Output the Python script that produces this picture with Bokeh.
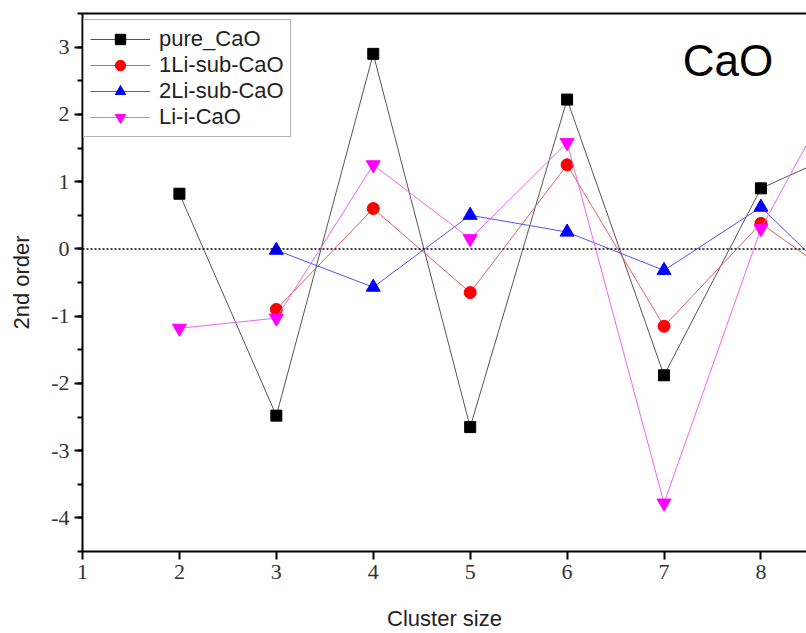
from bokeh.plotting import figure
from bokeh.models import Range1d, LinearAxis, Span, Legend, LegendItem, FixedTicker
from bokeh.core.properties import value
from bokeh.embed import file_html
from bokeh.resources import INLINE

# cluster sizes and second-order energy differences
sizes = [2, 3, 4, 5, 6, 7, 8, 9]
pure_cao = [0.82, -2.48, 2.90, -2.65, 2.22, -1.88, 0.90, 1.55]
li1_sub_x = [3, 4, 5, 6, 7, 8, 9]
li1_sub = [-0.90, 0.60, -0.65, 1.25, -1.15, 0.38, -0.65]
li2_sub_x = [3, 4, 5, 6, 7, 8, 9]
li2_sub = [-0.02, -0.57, 0.50, 0.25, -0.32, 0.62, -0.78]
li_i_x = [2, 3, 4, 5, 6, 7, 8, 9]
li_i = [-1.18, -1.03, 1.25, 0.15, 1.58, -3.78, 0.30, 2.95]

x_ticks = [1, 2, 3, 4, 5, 6, 7, 8]
y_ticks = [-4, -3, -2, -1, 0, 1, 2, 3]
y_labels = {t: str(t) for t in y_ticks}

p = figure(width=806, height=633, output_backend="svg", toolbar_location=None,
           x_range=Range1d(1, 8.47), y_range=Range1d(-4.5, 3.5),
           min_border_left=82, min_border_right=0, min_border_top=13, min_border_bottom=80)
p.outline_line_color = None
p.grid.visible = False
p.background_fill_color = "white"
p.border_fill_color = "white"

# axes
xa = p.xaxis[0]
xa.ticker = FixedTicker(ticks=x_ticks)
xa.axis_line_width = 2
xa.major_tick_line_width = 2
xa.major_tick_out = 8
xa.major_tick_in = 0
xa.minor_tick_line_color = None
xa.major_label_text_font = "Liberation Serif"
xa.major_label_text_font_size = "22px"
xa.major_label_text_color = "#333333"
xa.major_label_standoff = 5
xa.axis_label = "Cluster size"
xa.axis_label_text_font = "Liberation Sans"
xa.axis_label_text_font_size = "22px"
xa.axis_label_text_font_style = "normal"
xa.axis_label_text_color = "#222222"
xa.axis_label_standoff = 24

ya = p.yaxis[0]
ya.ticker = FixedTicker(ticks=y_ticks, minor_ticks=[-4.5 + 0.5 * i for i in range(17)])
ya.major_label_overrides = y_labels
ya.axis_line_width = 2
ya.major_tick_line_width = 2
ya.minor_tick_line_width = 2
ya.major_tick_out = 8
ya.major_tick_in = 0
ya.minor_tick_out = 5
ya.minor_tick_in = 0
ya.major_label_text_font = "Liberation Serif"
ya.major_label_text_font_size = "22px"
ya.major_label_text_color = "#333333"
ya.major_label_standoff = 5
ya.axis_label = "2nd order"
ya.axis_label_text_font = "Liberation Sans"
ya.axis_label_text_font_size = "22px"
ya.axis_label_text_font_style = "normal"
ya.axis_label_text_color = "#222222"
ya.axis_label_standoff = 14

# frame line along the top
top = LinearAxis(ticker=FixedTicker(ticks=[]), major_tick_line_color=None,
                 minor_tick_line_color=None, axis_line_width=2)
p.add_layout(top, "above")

# zero reference
p.add_layout(Span(location=0, dimension="width", line_color="black",
                  line_width=1.5, line_dash="2 2"))

# series
l1 = p.line(sizes, pure_cao, line_color="#555555", line_width=1)
m1 = p.scatter(sizes, pure_cao, marker="square", size=11, color="black")
l2 = p.line(li1_sub_x, li1_sub, line_color="#e06060", line_width=1)
m2 = p.scatter(li1_sub_x, li1_sub, marker="circle", size=12, color="red")
l3 = p.line(li2_sub_x, li2_sub, line_color="#5555ee", line_width=1)
m3 = p.scatter(li2_sub_x, li2_sub, marker="triangle", size=14, color="blue")
l4 = p.line(li_i_x, li_i, line_color="#ee66ee", line_width=1)
m4 = p.scatter(li_i_x, li_i, marker="inverted_triangle", size=14, color="magenta")

p.text(x=[7.66], y=[2.80], text=["CaO"], text_font=value("Liberation Sans"),
       text_font_size="44px", text_align="center", text_baseline="middle",
       text_color="black")

legend = Legend(items=[
    LegendItem(label="pure_CaO", renderers=[l1, m1]),
    LegendItem(label="1Li-sub-CaO", renderers=[l2, m2]),
    LegendItem(label="2Li-sub-CaO", renderers=[l3, m3]),
    LegendItem(label="Li-i-CaO", renderers=[l4, m4]),
], location=(1, 414))
legend.label_text_font = "Liberation Sans"
legend.label_text_font_size = "22px"
legend.label_text_color = "#222222"
legend.label_height = 20
legend.glyph_height = 26
legend.glyph_width = 60
legend.label_standoff = 9
legend.spacing = 0
legend.padding = 6
legend.margin = 0
legend.border_line_color = "#666666"
legend.border_line_width = 1.5
legend.background_fill_alpha = 1
p.add_layout(legend)

open("out.html", "w").write(file_html(p, INLINE))
